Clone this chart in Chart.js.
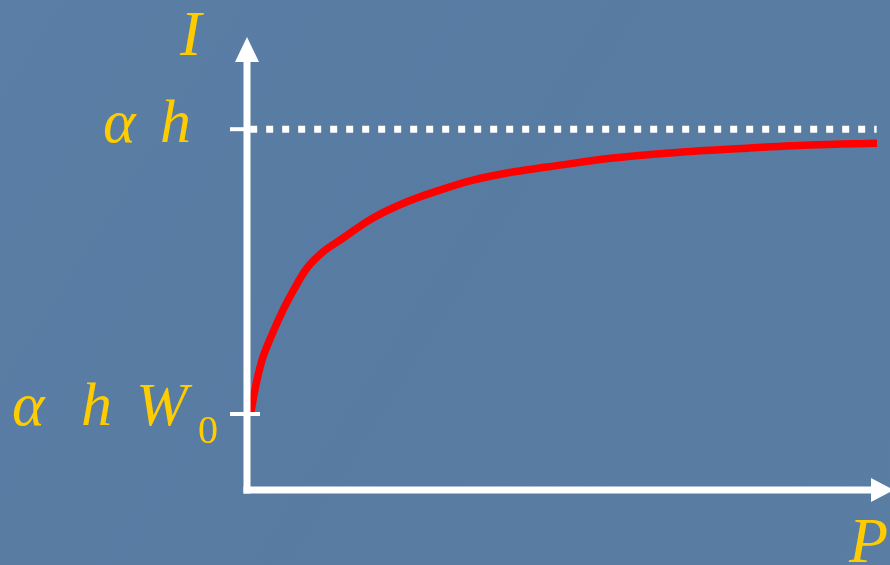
<!DOCTYPE html>
<html>
<head>
<meta charset="utf-8">
<script src="https://cdn.jsdelivr.net/npm/chart.js@4.4.1/dist/chart.umd.min.js"></script>
<style>
  html, body { margin: 0; padding: 0; background: #5a7ca3; }
  #wrap { width: 890px; height: 565px; position: relative; }
  #c { position: absolute; left: 0; top: 0; }
  #labels { position: absolute; left: 0; top: 0; pointer-events: none; }
  #labels text { font-family: "Liberation Serif", "Times New Roman", serif; fill: #ffcc00; }
  #labels .it { font-style: italic; }
</style>
</head>
<body>
<div id="wrap">
  <canvas id="c" width="890" height="565"></canvas>
  <svg id="labels" width="890" height="565" xmlns="http://www.w3.org/2000/svg"></svg>
</div>
<script>
// Curve I(P)
const pValues = [0.055, 0.157, 0.252, 0.409, 0.566, 0.723, 0.943, 1.195, 1.462, 1.981, 2.516, 3.035, 3.553, 4.088, 4.717, 5.755, 6.808, 7.862, 8.852, 9.906];
const iValues = [1.685, 2.44, 2.95, 3.50, 3.99, 4.41, 4.92, 5.28, 5.54, 6.03, 6.39, 6.65, 6.87, 7.03, 7.16, 7.36, 7.49, 7.58, 7.65, 7.69];
// Asymptote
const asymptoteP = [0.05, 9.9];
const asymptoteI = [8, 8];
// Y tick marks and their labels
const yTickValues = [1.685, 8];
const yTickLabels = ["α h W₀", "α h"];
const xAxisLabel = "P";
const yAxisLabel = "I";

const curveData = pValues.map((p, k) => ({ x: p, y: iValues[k] }));
const asymData = asymptoteP.map((p, k) => ({ x: p, y: asymptoteI[k] }));

const bgPlugin = {
  id: 'bg',
  beforeDraw(chart) {
    const ctx = chart.ctx;
    ctx.save();
    const g = ctx.createLinearGradient(0, 0, chart.width, chart.height);
    g.addColorStop(0, '#5b7ea6');
    g.addColorStop(0.5, '#587ba2');
    g.addColorStop(1, '#5a7da4');
    ctx.fillStyle = g;
    ctx.fillRect(0, 0, chart.width, chart.height);
    ctx.restore();
  }
};

const axesPlugin = {
  id: 'axes',
  afterDatasetsDraw(chart) {
    const ctx = chart.ctx;
    const xs = chart.scales.x, ys = chart.scales.y;
    const x0 = xs.getPixelForValue(0);
    const y0 = ys.getPixelForValue(0);
    ctx.save();
    ctx.strokeStyle = '#ffffff';
    ctx.fillStyle = '#ffffff';
    ctx.lineWidth = 7;
    ctx.lineCap = 'butt';
    ctx.beginPath();
    ctx.moveTo(x0, y0 + 3.5);
    ctx.lineTo(x0, ys.top + 20);
    ctx.stroke();
    ctx.beginPath();
    ctx.moveTo(x0, ys.top - 2);
    ctx.lineTo(x0 - 12, ys.top + 23);
    ctx.lineTo(x0 + 12, ys.top + 23);
    ctx.closePath();
    ctx.fill();
    ctx.beginPath();
    ctx.moveTo(x0 - 3.5, y0);
    ctx.lineTo(xs.right - 10, y0);
    ctx.stroke();
    ctx.beginPath();
    ctx.moveTo(xs.right + 11, y0);
    ctx.lineTo(xs.right - 12, y0 - 12);
    ctx.lineTo(xs.right - 12, y0 + 12);
    ctx.closePath();
    ctx.fill();
    ctx.lineWidth = 4;
    yTickValues.forEach((v, k) => {
      const py = ys.getPixelForValue(v);
      ctx.beginPath();
      ctx.moveTo(x0 - 17, py);
      ctx.lineTo(x0 + (k === 0 ? 13 : 3), py);
      ctx.stroke();
    });
    ctx.restore();
  }
};

const chart = new Chart(document.getElementById('c'), {
  type: 'scatter',
  data: {
    datasets: [
      {
        data: asymData,
        showLine: true,
        borderColor: '#ffffff',
        borderWidth: 7,
        borderDash: [7, 9],
        borderCapStyle: 'butt',
        pointRadius: 0,
        fill: false,
        order: 2
      },
      {
        data: curveData,
        showLine: true,
        borderColor: '#ff0000',
        borderWidth: 7.5,
        pointRadius: 0,
        tension: 0.35,
        fill: false,
        order: 1
      }
    ]
  },
  options: {
    responsive: false,
    animation: false,
    events: [],
    layout: { padding: { left: 247, right: 7, top: 39, bottom: 75 } },
    plugins: { legend: { display: false }, tooltip: { enabled: false } },
    scales: {
      x: { type: 'linear', min: 0, max: 10, display: false },
      y: { type: 'linear', min: 0, max: 10, display: false }
    }
  },
  plugins: [bgPlugin, axesPlugin]
});

// Text labels as SVG text, placed from the chart's scales
const svg = document.getElementById('labels');
function addText(str, x, y, size, italic) {
  const t = document.createElementNS('http://www.w3.org/2000/svg', 'text');
  t.setAttribute('x', x);
  t.setAttribute('y', y);
  t.setAttribute('font-size', size);
  if (italic) t.setAttribute('class', 'it');
  t.textContent = str;
  svg.appendChild(t);
}
const ys = chart.scales.y;
const pyTop = ys.getPixelForValue(yTickValues[1]);
const pyLow = ys.getPixelForValue(yTickValues[0]);
const partsTop = yTickLabels[1].split(' ');
addText(partsTop[0], 103, pyTop + 13, 62, true);
addText(partsTop[1], 160, pyTop + 13, 62, true);
const partsLow = yTickLabels[0].split(' ');
addText(partsLow[0], 12, pyLow + 11, 62, true);
addText(partsLow[1], 81, pyLow + 11, 62, true);
addText(partsLow[2].charAt(0), 136, pyLow + 11, 62, true);
addText('0', 198, pyLow + 29, 40, false);
addText(yAxisLabel, 180, 55, 64, true);
addText(xAxisLabel, 849, 562, 64, true);
</script>
</body>
</html>
